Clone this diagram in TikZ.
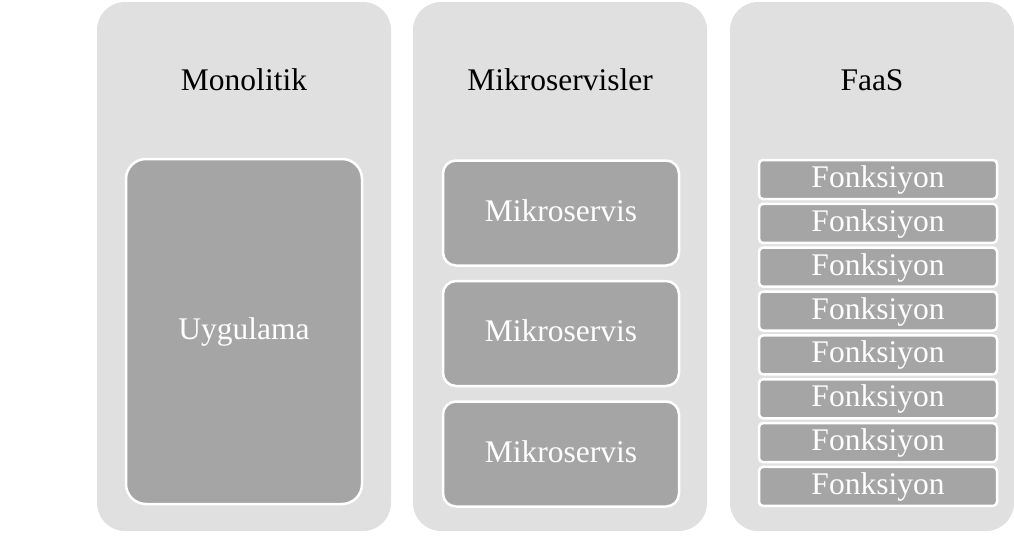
\documentclass[tikz,border=0pt]{standalone}
\usepackage{fontspec}
\setmainfont{Liberation Serif}
\definecolor{lanefill}{HTML}{E0E0E0}
\definecolor{unitfill}{HTML}{A5A5A5}
\begin{document}
\begin{tikzpicture}[x=1pt,y=-1pt,
  lane/.style={fill=lanefill, draw=none, rounded corners=28pt, inner sep=0pt, outer sep=0pt},
  lanetitle/.style={anchor=base, inner sep=0pt, text=black,
    font=\fontsize{31.5}{36}\selectfont},
  unit/.style={fill=unitfill, draw=white, line width=2.5pt, inner sep=0pt,
    text=white, text height=16pt, text depth=0pt,
    font=\fontsize{31.5}{36}\selectfont},
  appbox/.style={unit, rounded corners=20pt, minimum width=236pt, minimum height=345pt},
  svcbox/.style={unit, rounded corners=13pt, minimum width=236pt, minimum height=105pt},
  fnbox/.style={unit, rounded corners=4pt, minimum width=238pt, minimum height=39pt},
]
\useasboundingbox (0,0) rectangle (1014,538);

% three lanes
\node[lane, minimum width=294pt, minimum height=529pt] (laneA) at (244,266.5) {};
\node[lane, minimum width=294pt, minimum height=529pt] (laneB) at (560,266.5) {};
\node[lane, minimum width=284pt, minimum height=529pt] (laneC) at (872,266.5) {};

% lane titles
\node[lanetitle] (titleA) at (244,90.7) {Monolitik};
\node[lanetitle] (titleB) at (560,90.7) {Mikroservisler};
\node[lanetitle] (titleC) at (872,90.7) {FaaS};

% monolith
\node[appbox] (app) at (244,331.5) {Uygulama};

% microservices
\node[svcbox] (svc1) at (561,213) {Mikroservis};
\node[svcbox] (svc2) at (561,333.5) {Mikroservis};
\node[svcbox] (svc3) at (561,454) {Mikroservis};

% functions
\foreach \i in {0,...,7}{
  \node[fnbox] (fn\i) at (878,{179.5+43.85*\i}) {Fonksiyon};
}
\end{tikzpicture}
\end{document}
